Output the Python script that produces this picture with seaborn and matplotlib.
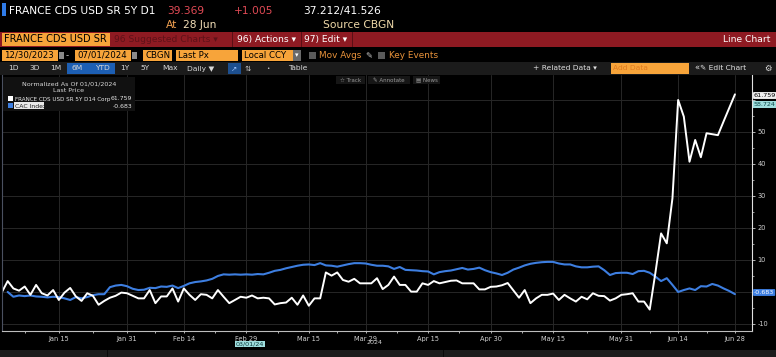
import numpy as np
import pandas as pd
import matplotlib
matplotlib.use('Agg')
import matplotlib.pyplot as plt
import seaborn as sns
from matplotlib.patches import Rectangle

# trading days, normalized as of 01/01/2024
dates = pd.bdate_range('2024-01-01', '2024-06-28')

cds = [0.0, 3.4, 1.1, 0.4, 1.7, -0.9, 2.2, -0.4, -1.1, 0.6,
       -2.5, -0.2, 1.25, -1.4, -2.8, -0.4, -1.2, -4.0, -2.8, -1.8,
       -1.2, -0.2, -0.4, -1.2, -2.0, -2.0, 0.6, -3.5, -1.4, -1.4,
       1.1, -3.0, 1.1, -0.9, -2.5, -0.7, -0.9, -2.0, 0.6, -1.5,
       -3.5, -2.5, -1.5, -1.8, -1.1, -2.0, -1.8, -2.0, -3.9, -3.5,
       -3.3, -1.8, -4.0, -1.1, -4.3, -2.0, -2.0, 6.1, 5.1, 6.1,
       3.75, 3.2, 4.1, 2.7, 2.7, 2.7, 4.3, 0.9, 2.2, 4.8,
       2.2, 2.2, 0.1, 0.1, 2.7, 2.2, 3.4, 2.7, 3.1, 3.5,
       3.6, 2.7, 2.7, 2.7, 0.8, 0.8, 1.6, 1.7, 2.1, 2.8,
       0.5, -1.8, 0.6, -3.5, -2.0, -0.9, -0.9, -0.5, -2.5, -0.9,
       -2.0, -3.0, -1.5, -2.3, -0.4, -1.2, -1.3, -2.7, -2.0, -0.9,
       -0.7, -0.4, -3.0, -3.0, -5.5, 6.0, 18.3, 15.2, 29.3, 60.0,
       54.8, 40.7, 47.5, 42.1, 49.6, 49.3, 49.0, 53.3, 57.5, 61.759]

cac = [np.nan, 0.0, -1.5, -1.1, -1.3, -1.1, -1.4, -1.5, -1.7, -1.5,
       -1.6, -2.0, -2.5, -1.6, -2.0, -1.6, -1.0, -0.7, -0.7, 1.5,
       2.0, 2.2, 1.8, 1.0, 0.6, 0.7, 1.3, 1.2, 1.7, 1.6,
       2.0, 1.2, 1.9, 2.7, 3.1, 3.3, 3.6, 4.1, 5.0, 5.5,
       5.4, 5.5, 5.4, 5.5, 5.4, 5.6, 5.5, 6.0, 6.6, 6.9,
       7.4, 7.8, 8.2, 8.5, 8.6, 8.4, 9.0, 8.3, 8.2, 7.9,
       8.3, 8.7, 9.0, 9.0, 8.9, 8.5, 8.2, 8.2, 8.0, 7.2,
       7.8, 6.9, 6.8, 6.7, 6.5, 6.4, 5.5, 6.2, 6.5, 6.7,
       7.1, 7.5, 7.0, 7.2, 7.6, 6.8, 6.2, 5.8, 5.3, 6.0,
       7.0, 7.6, 8.3, 8.8, 9.1, 9.3, 9.4, 9.4, 8.9, 8.6,
       8.6, 8.0, 7.7, 7.7, 7.9, 8.0, 6.8, 5.3, 5.9, 6.0,
       6.0, 5.6, 6.5, 6.6, 6.0, 4.8, 3.4, 4.3, 2.2, 0.0,
       0.6, 1.1, 0.6, 1.8, 1.7, 2.5, 2.0, 1.1, 0.3, -0.683]

tick_dates = ['2024-01-15', '2024-01-31', '2024-02-14', '2024-02-29', '2024-03-15', '2024-03-29',
              '2024-04-15', '2024-04-30', '2024-05-15', '2024-05-31', '2024-06-14', '2024-06-28']
tick_labels = ['Jan 15', 'Jan 31', 'Feb 14', 'Feb 29', 'Mar 15', 'Mar 29',
               'Apr 15', 'Apr 30', 'May 15', 'May 31', 'Jun 14', 'Jun 28']
y_ticks = [-10, 0, 10, 20, 30, 40, 50, 60]

W, H = 776, 357
BLUE = '#3d7ee0'
ORANGE = '#f7a43a'
RED_BAR = '#8e1a22'

sns.set_theme(style='dark')
plt.rcParams['font.family'] = ['DejaVu Sans']

fig = plt.figure(figsize=(W / 100, H / 100), dpi=100, facecolor='black')


# helpers working in pixel coords measured from the top-left corner
def box(x0, y0, x1, y1, color, z=1, ec='none'):
    fig.add_artist(Rectangle((x0 / W, 1 - y1 / H), (x1 - x0) / W, (y1 - y0) / H,
                             transform=fig.transFigure, facecolor=color, edgecolor=ec,
                             lw=0.6, zorder=z))


def txt(x, y, s, color='white', size=6.5, ha='left', z=5, **kw):
    fig.text(x / W, 1 - y / H, s, color=color, fontsize=size, ha=ha, va='center', zorder=z, **kw)


# ---- chart ----
ax = fig.add_axes([2 / W, (H - 331) / H, 750 / W, 256 / H])
ax.set_facecolor('black')

df = pd.DataFrame({'i': np.arange(len(dates)), 'cds': cds, 'cac': cac})
sns.lineplot(data=df, x='i', y='cac', ax=ax, color=BLUE, lw=1.5)
sns.lineplot(data=df, x='i', y='cds', ax=ax, color='white', lw=1.4)

xt = [dates.get_loc(pd.Timestamp(d)) for d in tick_dates]
ax.set_xlim(0, 132)
ax.set_ylim(-12.2, 67.8)
ax.set_xticks(xt)
ax.set_xticklabels(tick_labels)
minor_x = [xt[0] - (xt[1] - xt[0]) / 2] + [(a + b) / 2 for a, b in zip(xt[:-1], xt[1:])]
ax.set_xticks(minor_x, minor=True)
ax.yaxis.tick_right()
ax.set_yticks(y_ticks)
# 0 and 60 sit under the last-value tags on the right edge
ax.set_yticklabels(['' if v in (0, 60) else str(v) for v in y_ticks])
ax.set_yticks([v + 5 for v in y_ticks[:-1]], minor=True)
ax.set_xlabel('')
ax.set_ylabel('')
ax.grid(True, which='major', color='#272727', lw=0.7)
ax.tick_params(axis='x', which='both', colors='#d0d0d0', labelsize=4.8, length=1.5, width=0.6, pad=2,
               direction='out', bottom=True)
ax.tick_params(axis='y', which='major', colors='#d0d0d0', labelsize=4.8, length=2.5, width=0.6, pad=1.5,
               right=True, left=False)
ax.tick_params(axis='y', which='minor', colors='#d0d0d0', length=1.5, width=0.5, right=True, left=False)
ax.spines['top'].set_visible(False)
ax.spines['left'].set_color('#4a5060')
ax.spines['bottom'].set_color('#bdbdbd')
ax.spines['right'].set_color('#e0e0e0')
for s in ['left', 'bottom', 'right']:
    ax.spines[s].set_linewidth(0.8)

# ---- header row 1/2 ----
box(2, 3, 6, 16, '#2f7be8')
txt(9, 11, 'FRANCE CDS USD SR 5Y D1', size=7.7)
txt(167, 11, '39.369', color='#e04a55', size=7.7)
txt(234, 11, '+1.005', color='#e04a55', size=7.7)
txt(303, 11, '37.212/41.526', size=7.7)
txt(166, 25, 'At', color='#f0a050', size=7.7)
txt(183, 25, '28 Jun', color='#f3dfb8', size=7.7)
txt(323, 25, 'Source CBGN', color='#efd9a8', size=7.7)

# ---- row 3: red bar ----
box(0, 32, W, 47, RED_BAR)
box(2, 33, 110, 46, ORANGE, z=2)
txt(4, 39.5, 'FRANCE CDS USD SR', color='black', size=7)
txt(114, 39.5, '96 Suggested Charts \u25be', color='#5e1118', size=6.6)
box(232, 32, 233, 47, '#5a0f15', z=2)
txt(237, 39.5, '96) Actions \u25be', size=6.6)
box(301, 32, 302, 47, '#5a0f15', z=2)
txt(304, 39.5, '97) Edit \u25be', size=6.6)
box(352, 32, 353, 47, '#5a0f15', z=2)
txt(770, 39.5, 'Line Chart', size=6.6, ha='right')

# ---- row 4: inputs ----
for x0, x1, label in [(2, 58, '12/30/2023'), (75, 131, '07/01/2024'), (143, 172, 'CBGN'),
                      (176, 238, 'Last Px'), (242, 293, 'Local CCY')]:
    box(x0, 50, x1, 61, ORANGE, z=2)
    txt(x0 + 2, 55.5, label, color='black', size=6.2)
for x0 in [59, 132]:
    box(x0, 52, x0 + 5, 59, '#8a8a8a', z=2)
txt(66, 55.5, '-', color='#cccccc', size=6.2)
box(293, 50, 301, 61, '#6a6a6a', z=2)
txt(297, 55.5, '\u25be', color='white', size=5, ha='center')
box(309, 52, 316, 59, '#5a5a5a', z=2)
txt(319, 55.5, 'Mov Avgs', color='#e8923a', size=6.4)
txt(365, 55.5, '\u270e', color='#cccccc', size=6)
box(378, 52, 385, 59, '#5a5a5a', z=2)
txt(389, 55.5, 'Key Events', color='#e8923a', size=6.4)

# ---- row 5: toolbar ----
box(0, 62, W, 75, '#1b1b1b')
box(67, 63, 115, 74, '#1d5fb4', z=2)
for x, label in [(8, '1D'), (29, '3D'), (50, '1M'), (72, '6M'), (95, 'YTD'), (120, '1Y'),
                 (140, '5Y'), (162, 'Max'), (187, 'Daily \u25bc'), (288, 'Table')]:
    txt(x, 68.5, label, color='#d8d8d8', size=5.4)
box(228, 63, 241, 74, '#1d4f8f', z=2)
txt(234.5, 68.5, '\u2197', color='#9cc3ff', size=5.4, ha='center')
txt(248, 68.5, '\u21c5', color='#cccccc', size=5.4, ha='center')
txt(268, 68.5, '\u2022', color='#cccccc', size=4, ha='center')
txt(533, 68.5, '+ Related Data \u25be', color='#e0e0e0', size=5.4)
box(611, 63, 689, 74, ORANGE, z=2)
txt(613, 68.5, 'Add Data', color='#e07a20', size=5.4)
txt(694, 68.5, '\u00ab', color='#e0e0e0', size=6)
txt(700, 68.5, '\u270e Edit Chart', color='#e0e0e0', size=5.4)
txt(768, 68.5, '\u2699', color='#e0e0e0', size=6, ha='center')

# track / annotate / news buttons
for x0, x1, label in [(336, 365, '\u2606 Track'), (368, 410, '\u270e Annotate'), (413, 440, '\u25a4 News')]:
    box(x0, 76, x1, 84, '#161616', z=2)
    txt((x0 + x1) / 2, 80, label, color='#9a9a9a', size=4, ha='center')

# ---- legend box ----
box(3, 77, 135, 111, '#111111', z=2)
txt(69, 84, 'Normalized As Of 01/01/2024', color='#d8d8d8', size=4.6, ha='center')
txt(69, 91, 'Last Price', color='#d8d8d8', size=4.6, ha='center')
box(8, 96, 13, 101, 'white', z=3)
txt(15, 99, 'FRANCE CDS USD SR 5Y D14 Corp', color='#e8e8e8', size=4.1)
txt(132, 99, f'{cds[-1]:.3f}', color='#e8e8e8', size=4.4, ha='right')
box(8, 103, 13, 108, BLUE, z=3)
box(14, 102.5, 44, 109, '#e8e8e8', z=3)
txt(15, 106, 'CAC Index', color='#1a1a1a', size=4.4)
txt(132, 106, f'{cac[-1]:.3f}', color='#e8e8e8', size=4.4, ha='right')

# ---- right edge value labels ----
txt(754, 95.5, f'{cds[-1]:.3f}', color='black', size=4.6,
    bbox=dict(boxstyle='round,pad=0.15', fc='#f0f0f0', ec='none'))
txt(754, 104.5, '58.724', color='#0d4a4a', size=4.6,
    bbox=dict(boxstyle='square,pad=0.15', fc='#9fdede', ec='none'))
txt(754, 292.5, f'{cac[-1]:.3f}', color='white', size=4.6,
    bbox=dict(boxstyle='round,pad=0.15', fc=BLUE, ec='none'))

# ---- bottom extras ----
txt(250, 344, '03/01/24', color='#0d3a3a', size=4.6, ha='center',
    bbox=dict(boxstyle='square,pad=0.1', fc='#9fdede', ec='none'))
txt(375, 343, '2024', color='#d0d0d0', size=4.6, ha='center')
box(0, 350, W, H, '#1c1c1c')
box(107, 350, 108, H, '#0a0a0a', z=2)
box(443, 350, 444, H, '#0a0a0a', z=2)

fig.savefig('out.png', dpi=100, facecolor='black')
